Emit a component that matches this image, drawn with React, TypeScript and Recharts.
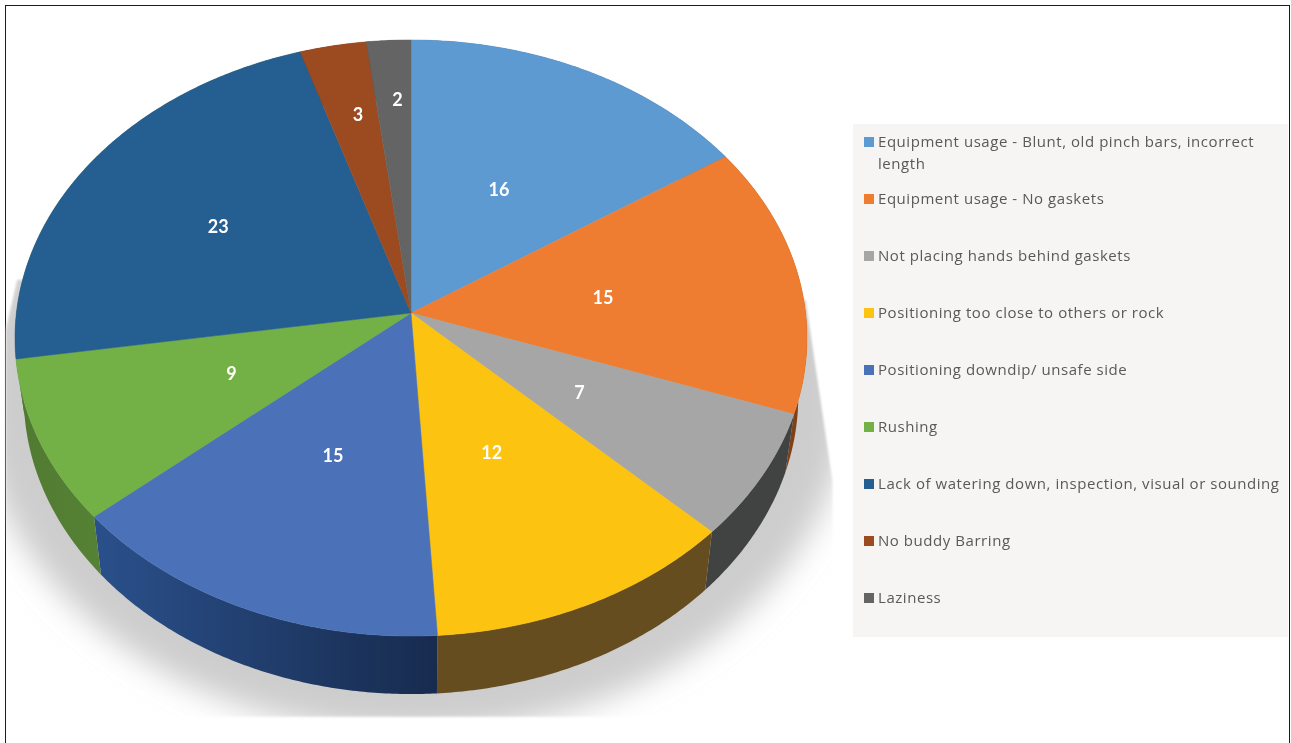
import React from "react";
import { PieChart, Pie, Legend } from "recharts";

const categories = [
  "Equipment usage - Blunt, old pinch bars, incorrect length",
  "Equipment usage - No gaskets",
  "Not placing hands behind gaskets",
  "Positioning too close to others or rock",
  "Positioning downdip/ unsafe side",
  "Rushing",
  "Lack of watering down, inspection, visual or sounding",
  "No buddy Barring",
  "Laziness",
];
const values = [16, 15, 7, 12, 15, 9, 23, 3, 2];
const topColors = ["#5e9ad2", "#ee7d32", "#a5a6a5", "#fdc311", "#4b72b8", "#73b046", "#255e91", "#9c4a20", "#636463"];
const wallFrom = ["#2f5d8a", "#8a4a1c", "#414342", "#664d1f", "#2a508b", "#507a31", "#507a31", "#5e2a08", "#3a3a3a"];
const wallTo = ["#2f5d8a", "#7d3f14", "#414342", "#664d1f", "#172b4e", "#568235", "#507a31", "#5e2a08", "#3a3a3a"];
const labelFractions = [0.5, 0.49, 0.5, 0.5, 0.5, 0.5, 0.58, 0.73, 0.77];
const labelShiftX = [-2, 1, -3, -5, 2, 3, -3, 5, 4];
const labelShiftY = [2, 2, -1, -1, 0, -3, 1, 0, 0];

const sliceRows = categories.map((name, i) => ({
  name,
  value: values[i],
  fill: topColors[i],
  from: wallFrom[i],
  to: wallTo[i],
}));
const totalRow = [{ name: "total", value: values.reduce((a, b) => a + b, 0) }];

const PERSPECTIVE = -0.0839;
const SQUASH = 0.75;
const DEPTH = 0.147;
const WALL_SCALE = 0.978;

const project = (cx: number, cy: number, r: number, clockDeg: number, f = 1) => {
  const t = (clockDeg * Math.PI) / 180;
  const u = f * Math.sin(t);
  const v = -f * Math.cos(t);
  const w = 1 + PERSPECTIVE * v;
  return { x: cx + (r * u) / w, y: cy + (r * SQUASH * v) / w };
};

const rim = (cx: number, cy: number, r: number, startAngle: number, endAngle: number) => {
  const a = 90 - startAngle;
  const b = 90 - endAngle;
  const n = Math.max(2, Math.ceil(Math.abs(b - a) * 2));
  const pts: { x: number; y: number }[] = [];
  for (let i = 0; i <= n; i++) pts.push(project(cx, cy, r, a + ((b - a) * i) / n));
  return pts;
};

const toPath = (pts: { x: number; y: number }[]) =>
  "M" + pts.map((p) => `${p.x.toFixed(2)},${p.y.toFixed(2)}`).join("L") + "Z";

const TopSlice = (props: any) => {
  const { cx, cy, outerRadius, startAngle, endAngle, fill } = props;
  const d = toPath([{ x: cx, y: cy }, ...rim(cx, cy, outerRadius, startAngle, endAngle)]);
  return <path d={d} fill={fill} stroke={fill} strokeWidth={0.5} />;
};

const WallSlice = (props: any) => {
  const { cx, cy, outerRadius, startAngle, endAngle, name } = props;
  const row = sliceRows.find((s) => s.name === name) ?? sliceRows[0];
  const top = rim(cx, cy, outerRadius, startAngle, endAngle);
  const bottom = top
    .map((p) => ({ x: cx + (p.x - cx) * WALL_SCALE, y: p.y + outerRadius * DEPTH }))
    .reverse();
  const id = "wall" + categories.indexOf(row.name);
  return (
    <g>
      <defs>
        <linearGradient id={id} x1="0" x2="1" y1="0" y2="0">
          <stop offset="0" stopColor={row.from} />
          <stop offset="1" stopColor={row.to} />
        </linearGradient>
      </defs>
      <path d={toPath([...top, ...bottom])} fill={`url(#${id})`} />
    </g>
  );
};

const ShadowShape = (props: any) => {
  const { cx, cy, outerRadius: r } = props;
  const poly = [
    [cx + r * 1.0, cy - r * 0.033],
    [cx + r * 1.068, cy + r * 0.425],
    [cx + r * 1.068, cy + r * 1.023],
    [cx - r * 1.027, cy + r * 1.023],
    [cx - r * 1.027, cy + r * 0.043],
    [cx - r * 0.998, cy - r * 0.084],
  ]
    .map((p) => p.join(","))
    .join(" ");
  return (
    <g>
      <defs>
        <filter id="shadowBlur" x="-10%" y="-10%" width="120%" height="120%">
          <feGaussianBlur stdDeviation="15" />
        </filter>
        <filter id="shadowEdge" x="-5%" y="-5%" width="110%" height="110%">
          <feGaussianBlur stdDeviation="1" />
        </filter>
        <clipPath id="shadowClip">
          <polygon points={poly} />
        </clipPath>
      </defs>
      <g filter="url(#shadowEdge)">
        <g clipPath="url(#shadowClip)">
          <ellipse
            cx={cx + 2}
            cy={cy + r * 0.195}
            rx={r * 1.105}
            ry={r * 0.87}
            fill="#cdcdcd"
            filter="url(#shadowBlur)"
          />
        </g>
      </g>
    </g>
  );
};

const renderLabel = (props: any) => {
  const { cx, cy, outerRadius, midAngle, index, value } = props;
  const p = project(cx, cy, outerRadius, 90 - midAngle, labelFractions[index]);
  return (
    <text
      x={p.x + labelShiftX[index]}
      y={p.y + labelShiftY[index]}
      fill="#ffffff"
      textAnchor="middle"
      dominantBaseline="central"
      style={{ fontFamily: "Lato, sans-serif", fontWeight: 700, fontSize: 18 }}
    >
      {value}
    </text>
  );
};

const LegendPanel = (props: any) => (
  <div style={{ position: "relative", width: "100%", height: "100%" }}>
    {(props.payload ?? [])
      .filter((entry: any) => entry.type !== "none")
      .map((entry: any, i: number) => (
        <div
          key={entry.value}
          style={{
            position: "absolute",
            left: 11,
            top: 6 + i * 57,
            width: 422,
            display: "flex",
            alignItems: "flex-start",
            color: "#595959",
            fontFamily: "'Open Sans', sans-serif",
            fontSize: 15,
            letterSpacing: 0.55,
            lineHeight: "22px",
          }}
        >
          <span
            style={{
              flex: "0 0 10px",
              height: 10,
              marginTop: 7,
              marginRight: 4,
              background: entry.color,
            }}
          />
          <span>{entry.value}</span>
        </div>
      ))}
  </div>
);

export default function App() {
  return (
    <div
      style={{
        position: "absolute",
        left: 0,
        top: 0,
        width: 1291,
        height: 743,
        overflow: "hidden",
        background: "#ffffff",
        filter: "blur(0.4px)",
      }}
    >
      <div
        style={{
          position: "absolute",
          left: 4.5,
          top: 5,
          width: 1283,
          height: 780,
          border: "1.5px solid #1c1c1c",
        }}
      />
      <div style={{ position: "absolute", left: 0, top: 0 }}>
        <PieChart width={1291} height={743} margin={{ top: 0, right: 0, bottom: 0, left: 0 }}>
          <Pie
            data={totalRow}
            dataKey="value"
            nameKey="name"
            cx={411}
            cy={313}
            outerRadius={394.6}
            startAngle={90}
            endAngle={-270}
            legendType="none"
            stroke="none"
            isAnimationActive={false}
            shape={ShadowShape}
          />
          <Pie
            data={sliceRows}
            dataKey="value"
            nameKey="name"
            cx={411}
            cy={313}
            outerRadius={394.6}
            startAngle={90}
            endAngle={-270}
            legendType="none"
            stroke="none"
            isAnimationActive={false}
            shape={WallSlice}
          />
          <Pie
            data={sliceRows}
            dataKey="value"
            nameKey="name"
            cx={411}
            cy={313}
            outerRadius={394.6}
            startAngle={90}
            endAngle={-270}
            stroke="none"
            isAnimationActive={false}
            shape={TopSlice}
            label={renderLabel}
            labelLine={false}
          />
          <Legend
            content={<LegendPanel />}
            itemSorter={null}
            wrapperStyle={{
              position: "absolute",
              left: 853,
              top: 124,
              bottom: "auto",
              width: 435,
              height: 513,
              background: "#f6f5f3",
            }}
          />
        </PieChart>
      </div>
    </div>
  );
}
